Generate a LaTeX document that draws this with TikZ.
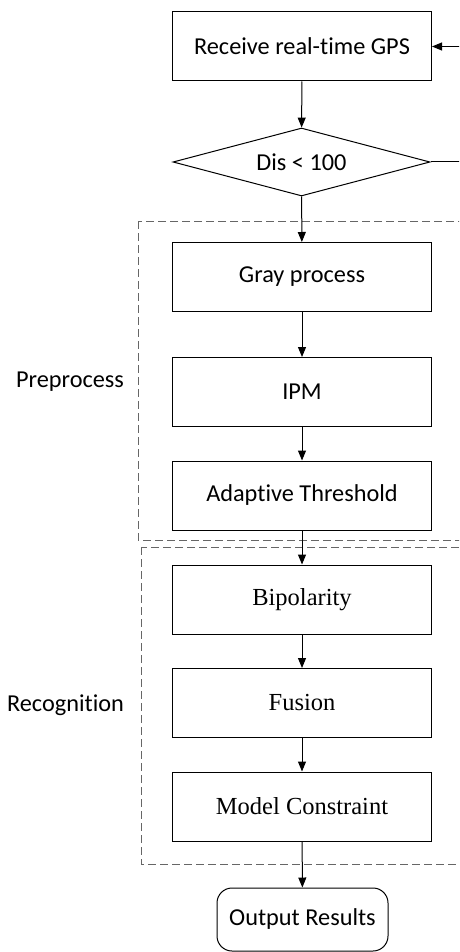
\documentclass[tikz,border=0pt]{standalone}
\usepackage{fontspec}
\setmainfont[Ligatures=NoCommon]{Carlito}
\newfontfamily\timesfont{Liberation Serif}
\usetikzlibrary{shapes.geometric,arrows.meta}
\begin{document}
\begin{tikzpicture}[x=1pt,y=-1pt]
\tikzset{
 box/.style={draw, line width=1pt, minimum width=259pt, minimum height=69pt, inner sep=0pt, font=\fontsize{24.3}{28}\selectfont},
 tbox/.style={box, font=\timesfont\fontsize{24.5}{28}\selectfont},
 dec/.style={draw, diamond, line width=1pt, minimum width=257pt, minimum height=68pt, aspect=3.78, inner sep=0pt, font=\fontsize{24.3}{28}\selectfont},
 term/.style={draw, line width=1pt, rounded corners=15pt, minimum width=171pt, minimum height=63pt, inner sep=0pt, font=\fontsize{24.3}{28}\selectfont},
 arr/.style={-{Triangle[length=10pt,width=8pt]}, line width=1pt},
 grp/.style={draw=gray!80!black, dash pattern=on 8pt off 4pt, line width=1pt},
 lbl/.style={font=\fontsize{24.3}{28}\selectfont}
}
\useasboundingbox (0,0) rectangle (459,952);
\clip (0,0) rectangle (459,952);

\draw[grp] (138,221) rectangle (475,540);
\draw[grp] (141,547) rectangle (475,864);

\node[box] (rec) at (302,46.5) {Receive real-time GPS};
\node[dec] (dis) at (301.5,162) {Dis < 100};
\node[box] (gray) at (302,277) {Gray process};
\node[box] (ipm) at (302,392) {IPM};
\node[box] (ada) at (302,495.5) {Adaptive Threshold};
\node[tbox] (bip) at (302,599.5) {Bipolarity};
\node[tbox] (fus) at (302,703) {Fusion};
\node[tbox] (mod) at (302,806.5) {Model Constraint};
\node[term] (out) at (302.5,919.5) {Output Results};

\node[lbl] (pre) at (70,382) {Preprocess};
\node[lbl] (recg) at (65.5,705) {Recognition};

\coordinate (r1) at (475,162);
\draw[arr] (rec) -- (dis);
\draw[arr] (dis) -- (gray);
\draw[arr] (gray) -- (ipm);
\draw[arr] (ipm) -- (ada);
\draw[arr] (ada) -- (bip);
\draw[arr] (bip) -- (fus);
\draw[arr] (fus) -- (mod);
\draw[arr] (mod) -- (out);
\draw[arr] (dis.east) -- (r1) |- (rec.east);
\end{tikzpicture}
\end{document}
